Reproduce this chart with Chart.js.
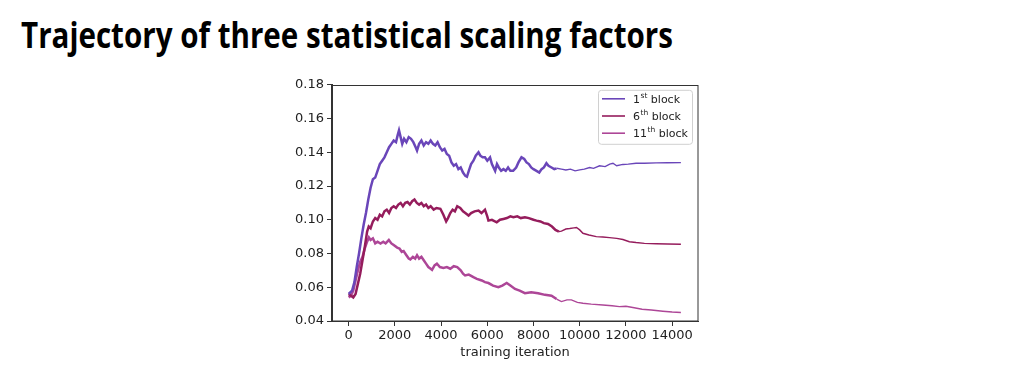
<!DOCTYPE html>
<html>
<head>
<meta charset="utf-8">
<script src="https://cdn.jsdelivr.net/npm/chart.js@4.4.1/dist/chart.umd.min.js"></script>
<style>
  body { margin: 0; background: #fff; width: 1025px; height: 375px; overflow: hidden; position: relative; }
  #title { position: absolute; left: 21px; top: 17px; font-family: 'Liberation Sans Narrow', 'Open Sans', sans-serif; font-weight: bold; font-size: 36px; line-height: 1; white-space: nowrap; color: #000; transform-origin: 0 0; }
  #wrap { position: absolute; left: 262px; top: 74px; width: 450px; height: 290px; }
</style>
</head>
<body>
<div id="title">Trajectory of three statistical scaling factors</div>
<div id="wrap"><canvas id="c" width="450" height="290"></canvas></div>
<script>
// values
const xTicks = [0, 2000, 4000, 6000, 8000, 10000, 12000, 14000];
const yTicks = [0.04, 0.06, 0.08, 0.10, 0.12, 0.14, 0.16, 0.18];
const seriesNames = ['1st', '6th', '11th'];

const blk1Iter = [0,150,250,350,450,550,650,750,850,950,1050,1150,1250,1350,1450,1550,1650,1750,1850,1950,2050,2120,2180,2250,2320,2400,2500,2600,2700,2800,2900,2960,3050,3150,3250,3350,3450,3550,3650,3750,3850,3950,4050,4150,4250,4350,4450,4550,4650,4750,4850,4950,5050,5120,5200,5300,5400,5500,5620,5700,5800,5900,6000,6120,6200,6340,6420,6500,6600,6700,6800,6900,7000,7120,7250,7350,7480,7600,7700,7800,7900,8000,8130,8250,8350,8450,8560,8650,8780,8900,9000,9210,9400,9600,9800,10000,10200,10430,10600,10860,11100,11300,11440,11600,11870,12100,12440,12800,13310,13800,14380];
const blk1Val = [0.056,0.058,0.063,0.072,0.080,0.089,0.097,0.104,0.112,0.119,0.124,0.125,0.129,0.133,0.135,0.137,0.140,0.143,0.145,0.147,0.146,0.150,0.153,0.149,0.145,0.148,0.146,0.149,0.148,0.146,0.143,0.141,0.145,0.147,0.144,0.146,0.145,0.147,0.145,0.144,0.146,0.143,0.141,0.142,0.139,0.138,0.134,0.132,0.133,0.130,0.131,0.128,0.126,0.1255,0.129,0.133,0.135,0.138,0.140,0.138,0.137,0.137,0.135,0.137,0.133,0.129,0.133,0.131,0.129,0.130,0.129,0.131,0.129,0.129,0.131,0.134,0.137,0.136,0.134,0.133,0.131,0.130,0.129,0.128,0.130,0.131,0.1335,0.132,0.131,0.130,0.1305,0.130,0.1295,0.130,0.129,0.1296,0.130,0.131,0.1305,0.132,0.1315,0.133,0.1335,0.132,0.1328,0.133,0.1335,0.1335,0.1337,0.1338,0.1339];

const blk6Iter = [0,100,200,300,400,500,600,700,800,870,950,1050,1150,1250,1350,1450,1550,1650,1750,1850,1950,2050,2150,2250,2350,2450,2550,2650,2750,2850,2950,3050,3150,3250,3350,3450,3550,3680,3800,3970,4100,4220,4300,4400,4500,4600,4700,4830,4950,5050,5190,5300,5450,5620,5750,5900,6000,6050,6200,6410,6550,6700,6850,7000,7130,7300,7450,7630,7800,8000,8130,8300,8450,8630,8800,8950,9100,9210,9400,9570,9750,9860,10000,10140,10400,10720,11000,11290,11600,11870,12150,12440,12800,13310,13800,14380];
const blk6Val = [0.056,0.055,0.054,0.056,0.062,0.068,0.076,0.084,0.093,0.096,0.095,0.099,0.101,0.100,0.103,0.102,0.105,0.106,0.104,0.107,0.108,0.107,0.109,0.110,0.108,0.110,0.1105,0.109,0.111,0.112,0.110,0.109,0.110,0.108,0.109,0.107,0.108,0.106,0.107,0.1065,0.103,0.099,0.101,0.104,0.106,0.105,0.108,0.107,0.105,0.104,0.1025,0.104,0.105,0.1055,0.104,0.106,0.102,0.0995,0.100,0.0985,0.100,0.1005,0.101,0.102,0.1015,0.102,0.101,0.1015,0.101,0.100,0.0995,0.099,0.098,0.0975,0.096,0.094,0.093,0.0933,0.0945,0.0948,0.0952,0.0954,0.094,0.092,0.091,0.090,0.0898,0.0894,0.089,0.0883,0.087,0.0865,0.086,0.0858,0.0856,0.0855];

const blk11Iter = [0,100,200,300,400,500,600,700,800,875,950,1050,1150,1250,1380,1500,1600,1740,1850,1950,2100,2200,2300,2380,2500,2600,2670,2780,2880,2960,3050,3150,3250,3350,3450,3550,3610,3720,3820,3950,4100,4250,4400,4550,4700,4850,4950,5040,5200,5400,5550,5760,5900,6050,6250,6480,6650,6840,7000,7200,7400,7630,7900,8200,8500,8780,9000,9210,9450,9640,9900,10140,10500,11000,11400,11720,12000,12300,12700,13100,13600,14000,14380];
const blk11Val = [0.054,0.055,0.058,0.064,0.070,0.075,0.078,0.083,0.087,0.0895,0.088,0.089,0.086,0.087,0.0859,0.087,0.086,0.088,0.086,0.085,0.0835,0.083,0.081,0.0815,0.079,0.077,0.0765,0.078,0.077,0.079,0.077,0.078,0.076,0.074,0.072,0.071,0.0703,0.073,0.074,0.072,0.0715,0.072,0.071,0.0725,0.072,0.070,0.068,0.067,0.0675,0.066,0.065,0.064,0.063,0.0625,0.061,0.060,0.061,0.0625,0.061,0.059,0.058,0.0565,0.057,0.0565,0.0555,0.055,0.053,0.0515,0.0525,0.0525,0.051,0.0505,0.050,0.0495,0.049,0.0485,0.0487,0.048,0.047,0.0465,0.0458,0.0453,0.045];

const colors = ['#6a46b9', '#951c5c', '#ad4697'];

// fit the slide title to its width in the picture
const t = document.getElementById('title');
t.style.transform = 'scaleX(' + (652 / t.getBoundingClientRect().width) + ')';

const pts = (xs, ys) => xs.map((x, i) => ({ x: x, y: ys[i] }));
const tickFont = { family: 'DejaVu Sans', size: 13 };

const boxPlugin = {
  id: 'box',
  afterDraw(chart) {
    const a = chart.chartArea, ctx = chart.ctx;
    ctx.save();
    ctx.strokeStyle = '#333';
    ctx.lineWidth = 1;
    ctx.strokeRect(Math.round(a.left) - 0.5, Math.round(a.top) + 0.5, Math.round(a.right - a.left) + 0.5, Math.round(a.bottom - a.top) - 0.5);

    // legend, matplotlib style with superscripts
    const bx = a.left + 266, by = a.top + 5, bw = 94, bh = 54;
    ctx.fillStyle = 'rgba(255,255,255,0.85)';
    ctx.strokeStyle = '#d0d0d0';
    ctx.beginPath();
    ctx.roundRect(bx + 0.5, by + 0.5, bw, bh, 3);
    ctx.fill();
    ctx.stroke();
    const sups = ['st', 'th', 'th'];
    const nums = ['1', '6', '11'];
    for (let i = 0; i < 3; i++) {
      const yy = by + 9 + i * 17.2;
      ctx.strokeStyle = colors[i];
      ctx.lineWidth = 1.6;
      ctx.beginPath();
      ctx.moveTo(bx + 4, yy);
      ctx.lineTo(bx + 27, yy);
      ctx.stroke();
      ctx.fillStyle = '#222';
      ctx.textBaseline = 'middle';
      ctx.textAlign = 'left';
      let x = bx + 35;
      ctx.font = '11px "DejaVu Sans"';
      ctx.fillText(nums[i], x, yy + 1);
      x += ctx.measureText(nums[i]).width + 0.5;
      ctx.font = '7.5px "DejaVu Sans"';
      ctx.fillText(sups[i], x, yy - 3);
      x += ctx.measureText(sups[i]).width;
      ctx.font = '11px "DejaVu Sans"';
      ctx.fillText(' block', x, yy + 1);
    }
    ctx.restore();
  }
};

new Chart(document.getElementById('c'), {
  type: 'line',
  data: {
    datasets: [
      { label: seriesNames[0] + ' block', data: pts(blk1Iter, blk1Val) },
      { label: seriesNames[1] + ' block', data: pts(blk6Iter, blk6Val) },
      { label: seriesNames[2] + ' block', data: pts(blk11Iter, blk11Val) }
    ].map((d, i) => Object.assign(d, {
      borderColor: colors[i],
      borderWidth: 1.8,
      pointRadius: 0,
      tension: 0,
      fill: false,
      segment: { borderWidth: c => c.p0.parsed.x < 9000 ? 2.5 : 1.4 }
    }))
  },
  options: {
    responsive: false,
    animation: false,
    layout: { padding: { top: 10, right: 14, left: 0, bottom: 0 } },
    plugins: { legend: { display: false }, tooltip: { enabled: false } },
    scales: {
      x: {
        type: 'linear',
        min: -720,
        max: 15120,
        afterBuildTicks: s => { s.ticks = xTicks.map(v => ({ value: v })); },
        afterFit: s => { s.height = 43; },
        ticks: { callback: v => String(v), font: tickFont, color: '#222', padding: 2, maxRotation: 0 },
        grid: { drawOnChartArea: false, tickLength: 5, color: '#333' },
        border: { color: '#333' },
        title: { display: true, text: 'training iteration', font: tickFont, color: '#222' }
      },
      y: {
        min: 0.04,
        max: 0.18,
        afterBuildTicks: s => { s.ticks = yTicks.map(v => ({ value: v })); },
        afterFit: s => { s.width = 70; },
        ticks: { callback: v => v.toFixed(2), font: tickFont, color: '#222', padding: 3 },
        grid: { drawOnChartArea: false, tickLength: 5, color: '#333' },
        border: { color: '#333' }
      }
    }
  },
  plugins: [boxPlugin]
});
</script>
</body>
</html>
